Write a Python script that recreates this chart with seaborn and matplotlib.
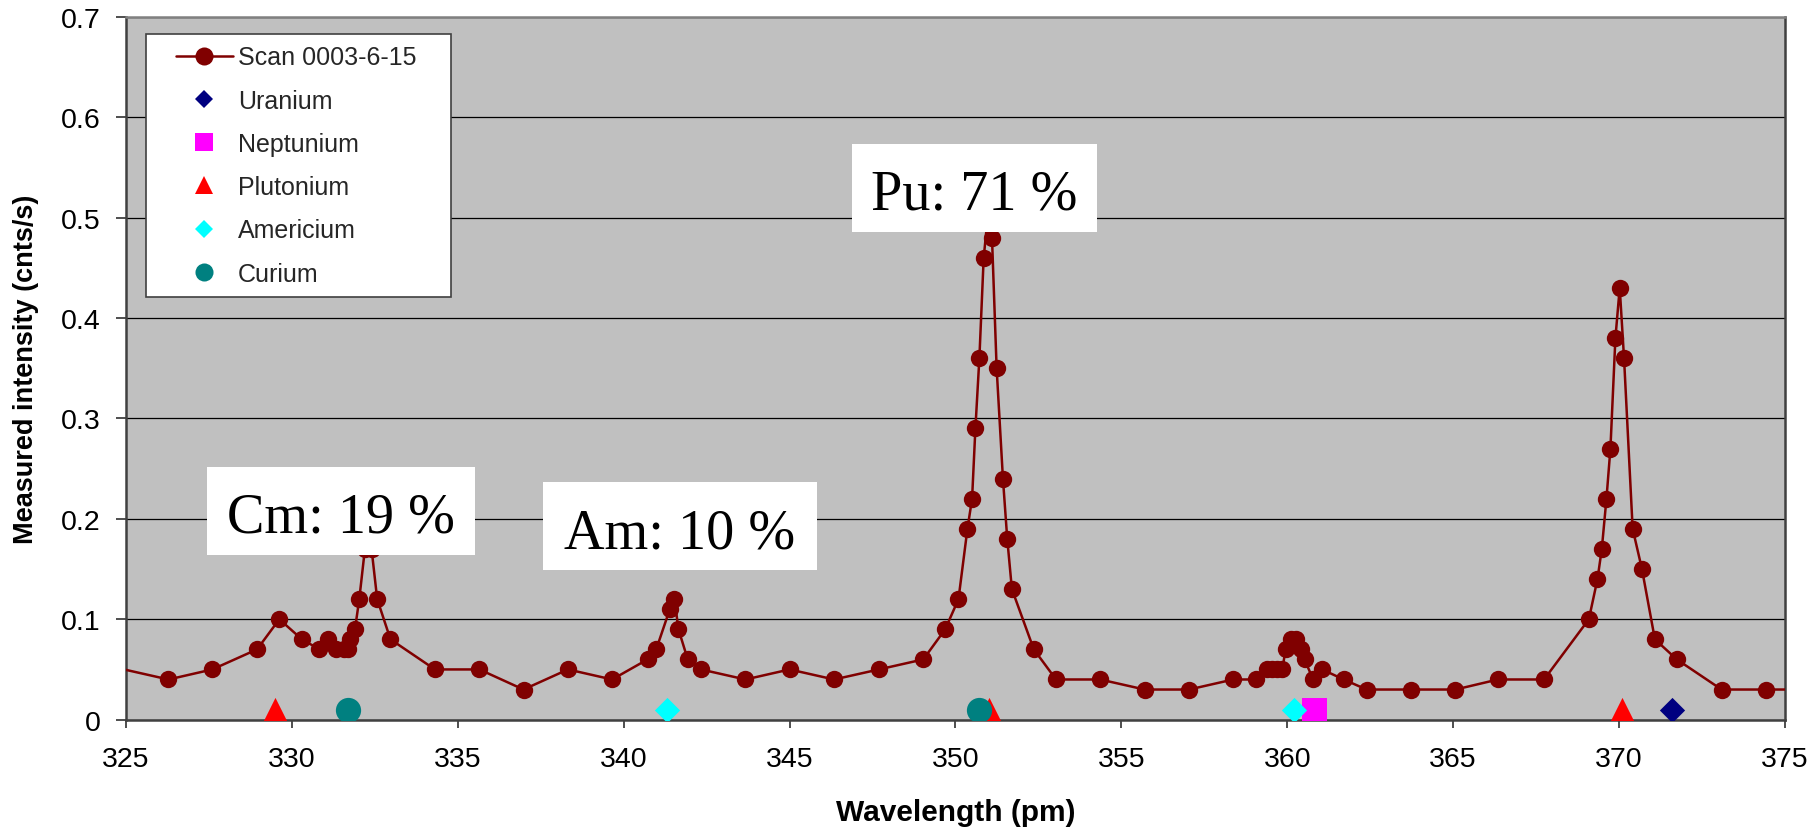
import numpy as np
import pandas as pd
import matplotlib
matplotlib.use("Agg")
import matplotlib.pyplot as plt
import seaborn as sns
from matplotlib.lines import Line2D
from matplotlib.patches import Rectangle
from matplotlib.legend_handler import HandlerLine2D
from matplotlib.ticker import FuncFormatter

# ---------------- data ----------------
scan_wavelength = [323.6, 326.28, 327.6, 328.95, 329.62, 330.3, 330.83, 331.08, 331.34, 331.57,
                   331.68, 331.76, 331.9, 332.03, 332.2, 332.4, 332.57, 332.97, 334.31, 335.65,
                   336.98, 338.32, 339.65, 340.72, 340.98, 341.39, 341.53, 341.65, 341.93, 342.33,
                   343.67, 345.0, 346.34, 347.69, 349.03, 349.69, 350.09, 350.36, 350.5, 350.6,
                   350.72, 350.85, 351.0, 351.1, 351.24, 351.43, 351.56, 351.7, 352.36, 353.03,
                   354.36, 355.7, 357.04, 358.37, 359.05, 359.4, 359.55, 359.7, 359.85, 359.95,
                   360.1, 360.25, 360.4, 360.52, 360.78, 361.05, 361.7, 362.39, 363.73, 365.07,
                   366.35, 367.74, 369.09, 369.35, 369.48, 369.62, 369.74, 369.89, 370.02, 370.15,
                   370.41, 370.69, 371.08, 371.74, 373.09, 374.42, 375.76]
scan_intensity = [0.06, 0.04, 0.05, 0.07, 0.10, 0.08, 0.07, 0.08, 0.07, 0.07,
                  0.07, 0.08, 0.09, 0.12, 0.17, 0.17, 0.12, 0.08, 0.05, 0.05,
                  0.03, 0.05, 0.04, 0.06, 0.07, 0.11, 0.12, 0.09, 0.06, 0.05,
                  0.04, 0.05, 0.04, 0.05, 0.06, 0.09, 0.12, 0.19, 0.22, 0.29,
                  0.36, 0.46, 0.51, 0.48, 0.35, 0.24, 0.18, 0.13, 0.07, 0.04,
                  0.04, 0.03, 0.03, 0.04, 0.04, 0.05, 0.05, 0.05, 0.05, 0.07,
                  0.08, 0.08, 0.07, 0.06, 0.04, 0.05, 0.04, 0.03, 0.03, 0.03,
                  0.04, 0.04, 0.10, 0.14, 0.17, 0.22, 0.27, 0.38, 0.43, 0.36,
                  0.19, 0.15, 0.08, 0.06, 0.03, 0.03, 0.03]

uranium_x = [371.6]
uranium_y = [0.01]
neptunium_x = [360.8]
neptunium_y = [0.01]
plutonium_x = [329.5, 351.0, 370.1]
plutonium_y = [0.01, 0.01, 0.01]
americium_x = [341.3, 360.2]
americium_y = [0.01, 0.01]
curium_x = [331.7, 350.7]
curium_y = [0.01, 0.01]

series_labels = ["Scan 0003-6-15", "Uranium", "Neptunium", "Plutonium", "Americium", "Curium"]

x_ticks = [325, 330, 335, 340, 345, 350, 355, 360, 365, 370, 375]
y_ticks = [0.0, 0.1, 0.2, 0.3, 0.4, 0.5, 0.6, 0.7]

annotation_labels = ["Cm: 19 %", "Am: 10 %", "Pu: 71 %"]
annotation_box_x = [327.44, 337.57, 346.87]
annotation_box_w = [8.09, 8.25, 7.40]
annotation_box_y = [0.164, 0.149, 0.486]
annotation_box_h = [0.088, 0.088, 0.0875]
annotation_baseline = [0.187, 0.171, 0.509]

# ---------------- style ----------------
sns.set_theme(style="white")
plt.rcParams["font.family"] = ["Liberation Sans", "DejaVu Sans"]

fig = plt.figure(figsize=(18.16, 8.37), dpi=100, facecolor="white")
ax = fig.add_axes([0.0694, 0.139, 0.9135, 0.8399])
ax.set_facecolor("#C0C0C0")
ax.set_axisbelow(True)
ax.yaxis.grid(True, color="black", linewidth=0.9)
ax.xaxis.grid(False)

# scan line
sns.lineplot(x=scan_wavelength, y=scan_intensity, sort=False, estimator=None,
             marker="o", markersize=12.5, color="#800000", markeredgecolor="#800000",
             markeredgewidth=0, linewidth=1.8, ax=ax, legend=False, zorder=3)

element_specs = [
    (uranium_x, uranium_y, "D", 165, "#000080"),
    (neptunium_x, neptunium_y, "s", 324, "#FF00FF"),
    (plutonium_x, plutonium_y, "^", 330, "#FF0000"),
    (americium_x, americium_y, "D", 165, "#00FFFF"),
    (curium_x, curium_y, "o", 330, "#008080"),
]
for xs, ys, mk, sz, col in element_specs:
    sns.scatterplot(x=xs, y=ys, marker=mk, s=sz, color=col, linewidth=0,
                    ax=ax, legend=False, zorder=4)

ax.set_xlim(325, 375)
ax.set_ylim(0, 0.7)
ax.set_xticks(x_ticks)
ax.set_yticks(y_ticks)
ax.yaxis.set_major_formatter(FuncFormatter(lambda v, _: "0" if abs(v) < 1e-9 else f"{v:.1f}"))
ax.tick_params(axis="x", direction="out", length=6, width=1.3, color="#404040",
               pad=13, labelsize=20.5, bottom=True, labelcolor="black")
ax.tick_params(axis="y", direction="out", length=7, width=1.3, color="#404040",
               pad=11.5, labelsize=20.5, left=True, labelcolor="black")

for side in ["left", "bottom", "right"]:
    ax.spines[side].set_color("#404040")
    ax.spines[side].set_linewidth(1.8)
ax.spines["top"].set_color("#808080")
ax.spines["top"].set_linewidth(1.8)

ax.set_xlabel("Wavelength (pm)", fontsize=21.5, fontweight="bold", color="black")
ax.set_ylabel("Measured intensity (cnts/s)", fontsize=19.5, fontweight="bold", color="black")
ax.xaxis.set_label_coords(0.5, -0.112)
ax.yaxis.set_label_coords(-0.0525, 0.5)

# annotation boxes
for lab, bx, bw, by, bh, bl in zip(annotation_labels, annotation_box_x, annotation_box_w,
                                   annotation_box_y, annotation_box_h, annotation_baseline):
    ax.add_patch(Rectangle((bx, by), bw, bh, facecolor="white", edgecolor="none", zorder=5))
    ax.text(bx + bw / 2, bl, lab, ha="center", va="baseline", fontsize=40.5,
            family=["Liberation Serif", "DejaVu Serif"], color="black", zorder=6)

# legend
class OffsetLineHandler(HandlerLine2D):
    def __init__(self, offset_frac, **kw):
        super().__init__(**kw)
        self.offset_frac = offset_frac

    def get_xdata(self, legend, xdescent, ydescent, width, height, fontsize):
        off = self.offset_frac * fontsize
        return [-xdescent + off, -xdescent + width], [-xdescent + off + 0.5 * (width - off)]

handles = [
    Line2D([], [], color="#800000", lw=1.8, marker="o", ms=13, mec="#800000", mew=0),
    Line2D([], [], ls="none", marker="D", ms=9.2, color="#000080", mew=0),
    Line2D([], [], ls="none", marker="s", ms=13, color="#FF00FF", mew=0),
    Line2D([], [], ls="none", marker="^", ms=13, color="#FF0000", mew=0),
    Line2D([], [], ls="none", marker="D", ms=9.2, color="#00FFFF", mew=0),
    Line2D([], [], ls="none", marker="o", ms=13, color="#008080", mew=0),
]
leg = ax.legend(handles, series_labels, loc="upper left",
                bbox_to_anchor=(0.0118, 0.5, 0.1838, 0.4758), mode="expand",
                borderaxespad=0, frameon=True, fancybox=False, edgecolor="#404040",
                facecolor="white", framealpha=1, fontsize=18, borderpad=0.47,
                labelspacing=0.77, handlelength=3.02, handletextpad=0.2,
                handler_map={Line2D: OffsetLineHandler(0.74, numpoints=1)})
leg.get_frame().set_linewidth(1.2)
leg.set_zorder(10)

fig.savefig("out.png", dpi=100, facecolor="white")
